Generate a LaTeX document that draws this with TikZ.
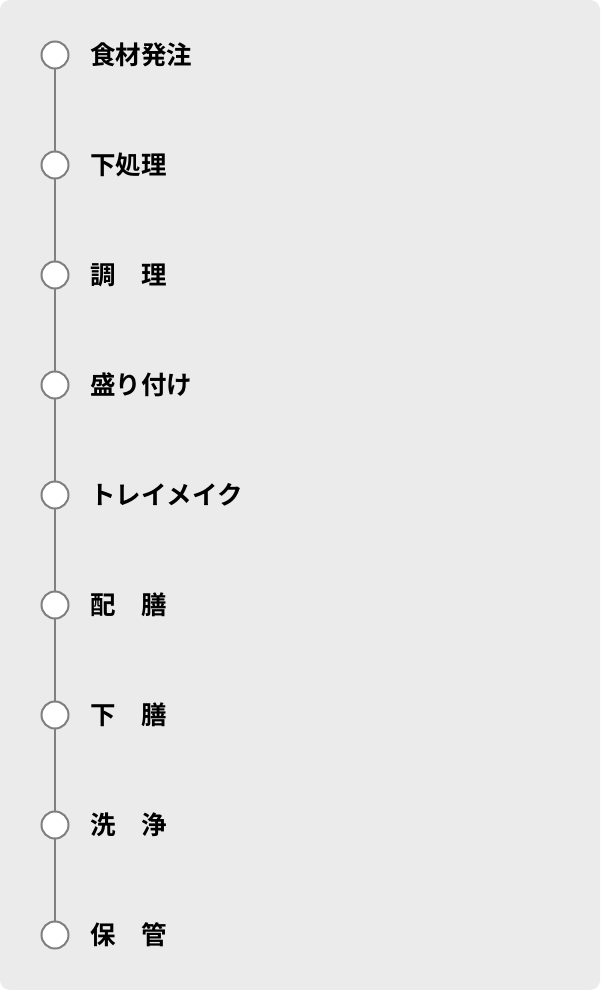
\documentclass[tikz,border=0pt]{standalone}
\usepackage{fontspec}
\usetikzlibrary{calc}
\newfontfamily\jpfont{Noto Sans CJK JP Bold}
\begin{document}
\begin{tikzpicture}[x=1pt,y=-1pt,
  stepdot/.style={circle,draw=linegray,fill=white,line width=2pt,minimum size=27pt,inner sep=0pt},
  steplabel/.style={anchor=west,inner sep=0pt,font=\jpfont\fontsize{25.5}{25.5}\selectfont,text=black}]
\definecolor{linegray}{HTML}{808080}
\definecolor{bggray}{HTML}{EBEBEB}
\useasboundingbox (0,0) rectangle (600,990);
\fill[bggray,rounded corners=10pt] (0,0) rectangle (600,990);
\foreach \i in {1,...,9}{
  \coordinate (c\i) at (55,{55+110*(\i-1)});
}
\draw[linegray,line width=2.2pt] (c1) -- (c9);
\foreach \i/\t in {1/食材発注,2/下処理,3/調　理,4/盛り付け,5/トレイメイク,6/配　膳,7/下　膳,8/洗　浄,9/保　管}{
  \node[stepdot] (d\i) at (c\i) {};
  \node[steplabel] (t\i) at ($(c\i)+(35,0)$) {\t};
}
\end{tikzpicture}
\end{document}
